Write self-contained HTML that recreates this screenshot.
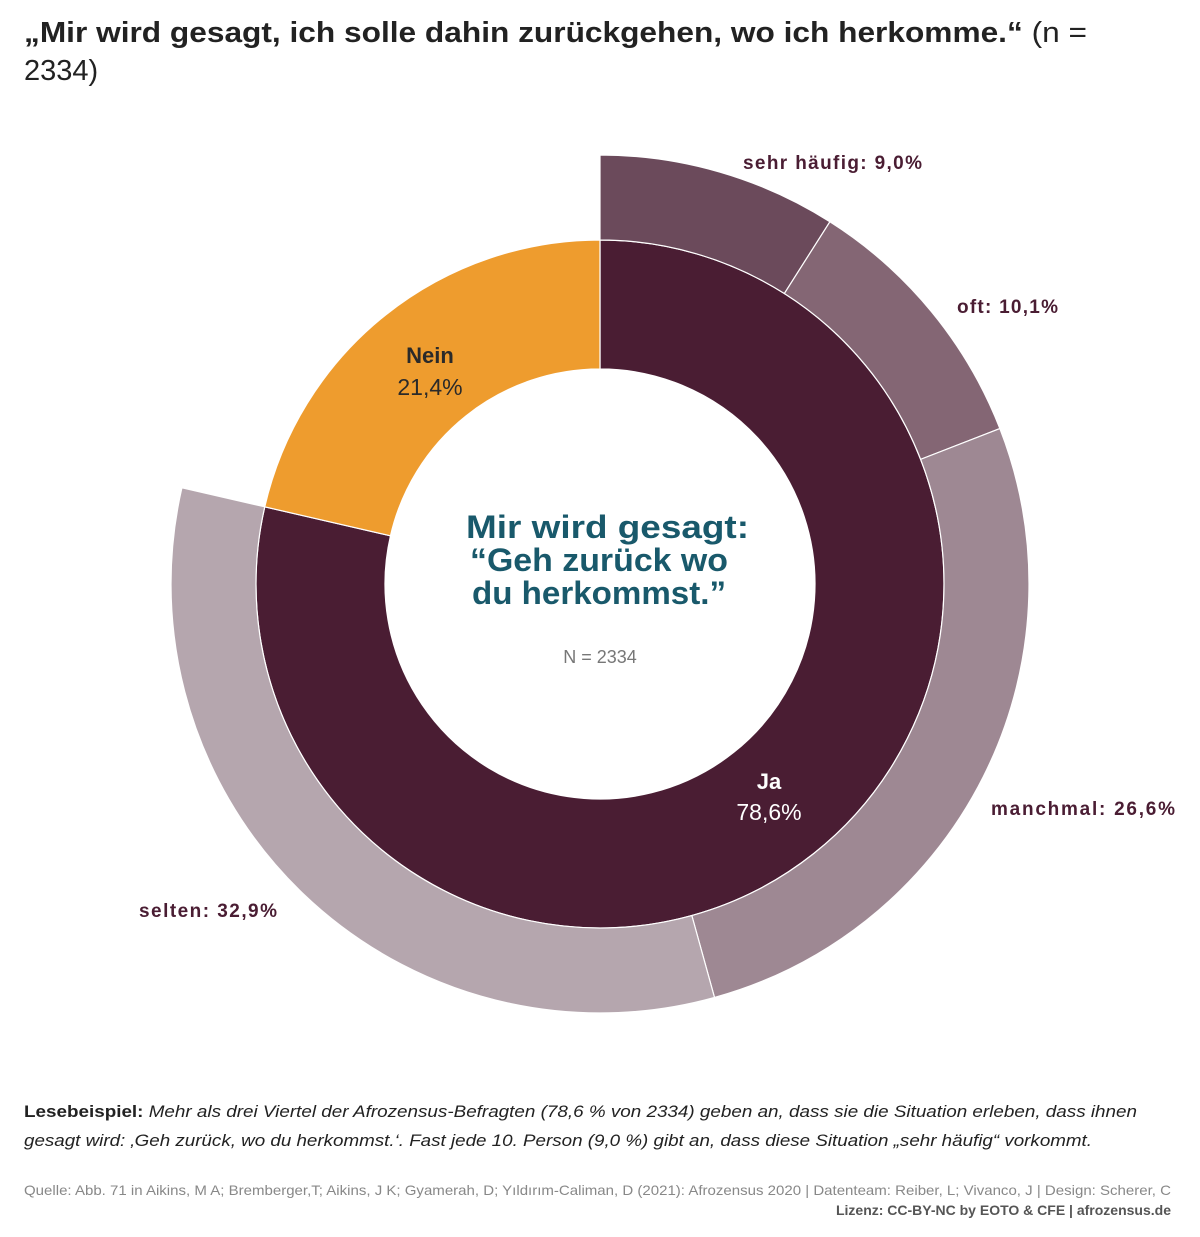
<!DOCTYPE html>
<html><head><meta charset="utf-8"><style>
body{margin:0;width:1200px;height:1237px;background:#fff;overflow:hidden;font-family:"Liberation Sans",sans-serif;}
svg{position:absolute;left:0;top:0}
</style></head><body>
<svg id="s" width="1200" height="1237" viewBox="0 0 1200 1237">
<text x="24" y="42" font-size="29" font-weight="bold" fill="#222" textLength="1063" lengthAdjust="spacingAndGlyphs">„Mir wird gesagt, ich solle dahin zurückgehen, wo ich herkomme.“ <tspan font-weight="normal">(n =</tspan></text>
<text x="24" y="80" font-size="29" fill="#222">2334)</text>
<g id="arcs"></g>
<g font-weight="bold" font-size="19" fill="#4a1d33" lengthAdjust="spacingAndGlyphs">
<text x="743" y="169" textLength="179">sehr häufig: 9,0%</text>
<text x="957" y="313" textLength="101">oft: 10,1%</text>
<text x="991" y="815" textLength="184">manchmal: 26,6%</text>
<text x="139" y="917" textLength="138">selten: 32,9%</text>
</g>
<text x="430" y="363" font-size="22" font-weight="bold" fill="#2a2a2a" text-anchor="middle">Nein</text>
<text x="430" y="395" font-size="23" fill="#2a2a2a" text-anchor="middle">21,4%</text>
<text x="769" y="789" font-size="22" font-weight="bold" fill="#fff" text-anchor="middle">Ja</text>
<text x="769" y="820" font-size="23" fill="#fff" text-anchor="middle">78,6%</text>
<g font-size="32" font-weight="bold" fill="#19596b">
<text x="466" y="538" textLength="283" lengthAdjust="spacingAndGlyphs">Mir wird gesagt:</text>
<text x="470" y="571" textLength="258" lengthAdjust="spacingAndGlyphs">“Geh zurück wo</text>
<text x="472" y="604" textLength="254" lengthAdjust="spacingAndGlyphs">du herkommst.”</text>
</g>
<text x="600" y="663" font-size="18" fill="#777" text-anchor="middle">N = 2334</text>
<text x="24" y="1117" font-size="17" fill="#222" textLength="1113" lengthAdjust="spacingAndGlyphs"><tspan font-weight="bold">Lesebeispiel:</tspan>  <tspan font-style="italic">Mehr als drei Viertel der Afrozensus-Befragten (78,6 % von 2334) geben an, dass sie die Situation erleben, dass ihnen</tspan></text>
<text x="24" y="1146" font-size="17" fill="#222" font-style="italic" textLength="1068" lengthAdjust="spacingAndGlyphs">gesagt wird: ‚Geh zurück, wo du herkommst.‘. Fast jede 10. Person (9,0 %) gibt an, dass diese Situation „sehr häufig“ vorkommt.</text>
<text x="24" y="1195" font-size="14" fill="#888" textLength="1147" lengthAdjust="spacingAndGlyphs">Quelle: Abb. 71 in Aikins, M A; Bremberger,T; Aikins, J K; Gyamerah, D; Yıldırım-Caliman, D (2021): Afrozensus 2020 | Datenteam: Reiber, L; Vivanco, J | Design: Scherer, C</text>
<text x="1171" y="1215" font-size="14" fill="#555" font-weight="bold" text-anchor="end">Lizenz: CC-BY-NC by EOTO &amp; CFE | afrozensus.de</text>
</svg>
<script>
var cx=600,cy=584;
function pt(r,a){a=a*Math.PI/180;return [cx+r*Math.sin(a),cy-r*Math.cos(a)];}
function arc(r0,r1,a0,a1,col){
var p1=pt(r1,a0),p2=pt(r1,a1),p3=pt(r0,a1),p4=pt(r0,a0),l=(a1-a0)>180?1:0;
return '<path d="M'+p1+' A'+r1+','+r1+' 0 '+l+' 1 '+p2+' L'+p3+' A'+r0+','+r0+' 0 '+l+' 0 '+p4+' Z" fill="'+col+'" stroke="#fff" stroke-width="1.2"/>';}
var h='';
h+=arc(215,344,0,282.96,'#4a1d33');
h+=arc(215,344,282.96,360,'#ee9c2e');
var c=[[9,'#6b4a5b'],[10.1,'#846674'],[26.6,'#9e8893'],[32.9,'#b5a6ae']],a=0;
c.forEach(function(d){var b=a+d[0]*3.6;h+=arc(344,429,a,b,d[1]);a=b;});
document.getElementById('arcs').innerHTML=h;
</script>
</body></html>
